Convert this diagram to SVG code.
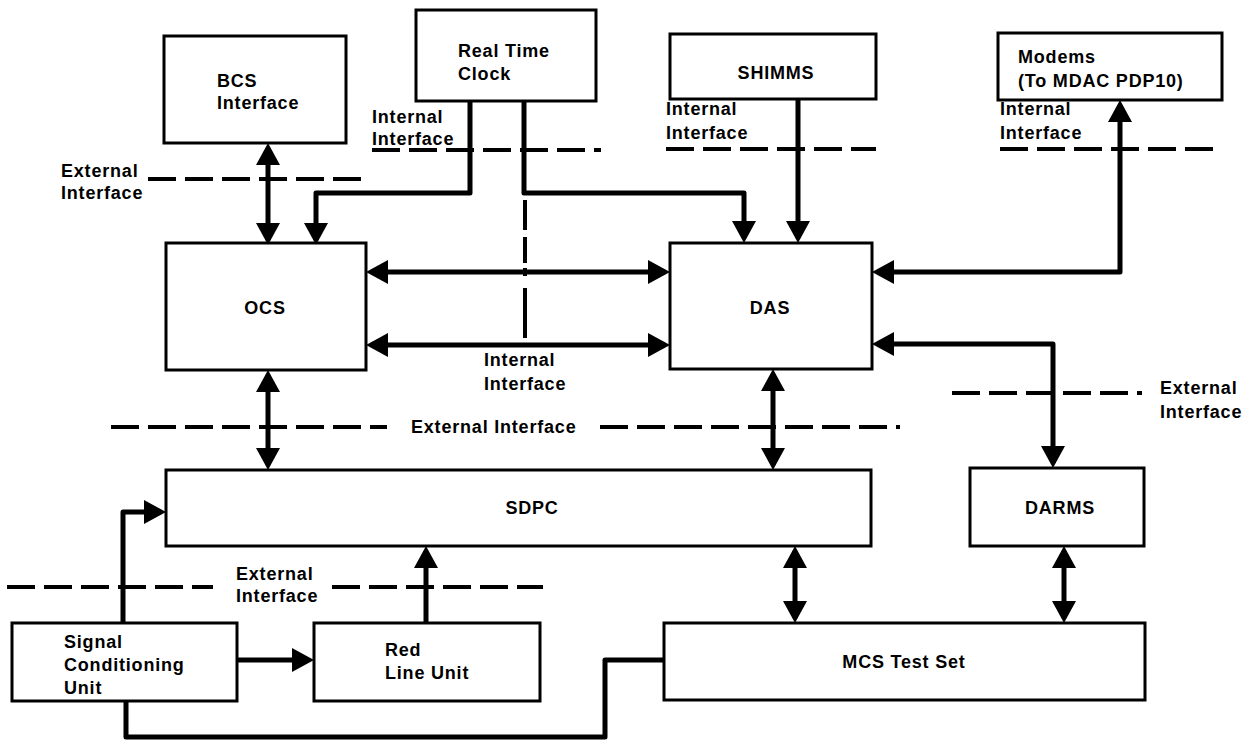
<svg xmlns="http://www.w3.org/2000/svg" width="1248" height="742" viewBox="0 0 1248 742">
<defs>
<style>
.box{fill:#fff;stroke:#000;stroke-width:3}
.t{font-family:"Liberation Sans",Arial,sans-serif;font-size:18px;font-weight:bold;letter-spacing:0.8px;fill:#000}
.c{stroke:#000;stroke-width:5;fill:none;stroke-linejoin:round}
.d{stroke:#000;stroke-width:4;fill:none;stroke-dasharray:28 9}
</style>
<marker id="ah" markerUnits="userSpaceOnUse" markerWidth="24" markerHeight="24" refX="17" refY="12" orient="auto-start-reverse">
<path d="M0,0 L22,12 L0,24 z" fill="#000"/>
</marker>
</defs>
<rect width="1248" height="742" fill="#fff"/>

<g id="interfaces">
<line class="d" x1="372" y1="150" x2="601" y2="150"/>
<line class="d" x1="666" y1="149" x2="876" y2="149"/>
<line class="d" x1="1000" y1="149" x2="1222" y2="149"/>
<line class="d" x1="148" y1="179" x2="364" y2="179"/>
<line class="d" x1="111" y1="427" x2="387" y2="427"/>
<line class="d" x1="600" y1="427" x2="900" y2="427"/>
<line class="d" x1="952" y1="393" x2="1142" y2="393"/>
<line class="d" x1="7" y1="587" x2="213" y2="587"/>
<line class="d" x1="332" y1="587" x2="543" y2="587"/>
<path d="M525,200 V230 M525,237 V263 M525,268 V276 M525,288 V338" stroke="#000" stroke-width="4" fill="none"/>
<text class="t" x="372" y="123">Internal</text>
<text class="t" x="372" y="145">Interface</text>
<text class="t" x="666" y="115">Internal</text>
<text class="t" x="666" y="139">Interface</text>
<text class="t" x="1000" y="115">Internal</text>
<text class="t" x="1000" y="139">Interface</text>
<text class="t" x="61" y="177">External</text>
<text class="t" x="61" y="199">Interface</text>
<text class="t" x="484" y="366">Internal</text>
<text class="t" x="484" y="390">Interface</text>
<text class="t" x="411" y="433">External Interface</text>
<text class="t" x="1160" y="394">External</text>
<text class="t" x="1160" y="418">Interface</text>
<text class="t" x="236" y="580">External</text>
<text class="t" x="236" y="602">Interface</text>
</g>

<g id="connectors">
<line class="c" x1="268" y1="148" x2="268" y2="240" marker-start="url(#ah)" marker-end="url(#ah)"/>
<path class="c" d="M470,101 V193 H316 V240" marker-end="url(#ah)"/>
<path class="c" d="M524,101 V193 H744 V238" marker-end="url(#ah)"/>
<line class="c" x1="798" y1="99" x2="798" y2="238" marker-end="url(#ah)"/>
<line class="c" x1="371" y1="272" x2="665" y2="272" marker-start="url(#ah)" marker-end="url(#ah)"/>
<line class="c" x1="371" y1="345" x2="665" y2="345" marker-start="url(#ah)" marker-end="url(#ah)"/>
<path class="c" d="M877,272 H1120 V105" marker-start="url(#ah)" marker-end="url(#ah)"/>
<path class="c" d="M877,344 H1053 V463" marker-start="url(#ah)" marker-end="url(#ah)"/>
<line class="c" x1="268" y1="375" x2="268" y2="465" marker-start="url(#ah)" marker-end="url(#ah)"/>
<line class="c" x1="773" y1="374" x2="773" y2="465" marker-start="url(#ah)" marker-end="url(#ah)"/>
<path class="c" d="M123,623 V512 H161" marker-end="url(#ah)"/>
<line class="c" x1="426" y1="623" x2="426" y2="551" marker-end="url(#ah)"/>
<line class="c" x1="237" y1="660" x2="309" y2="660" marker-end="url(#ah)"/>
<line class="c" x1="795" y1="551" x2="795" y2="618" marker-start="url(#ah)" marker-end="url(#ah)"/>
<line class="c" x1="1064" y1="551" x2="1064" y2="618" marker-start="url(#ah)" marker-end="url(#ah)"/>
<path class="c" d="M126,701 V737 H605 V660 H664"/>
</g>

<g id="bcs"><rect class="box" x="164" y="36" width="182" height="107"/><text class="t" x="217" y="87">BCS</text><text class="t" x="217" y="109">Interface</text></g>
<g id="rtc"><rect class="box" x="416" y="10" width="180" height="91"/><text class="t" x="458" y="57">Real Time</text><text class="t" x="458" y="80">Clock</text></g>
<g id="shimms"><rect class="box" x="670" y="34" width="206" height="65"/><text class="t" x="776" y="79" text-anchor="middle">SHIMMS</text></g>
<g id="modems"><rect class="box" x="998" y="33" width="224" height="67"/><text class="t" x="1018" y="63">Modems</text><text class="t" x="1018" y="87">(To MDAC PDP10)</text></g>
<g id="ocs"><rect class="box" x="166" y="243" width="200" height="127"/><text class="t" x="265" y="314" text-anchor="middle">OCS</text></g>
<g id="das"><rect class="box" x="670" y="243" width="202" height="126"/><text class="t" x="770" y="314" text-anchor="middle">DAS</text></g>
<g id="sdpc"><rect class="box" x="166" y="470" width="705" height="76"/><text class="t" x="532" y="514" text-anchor="middle">SDPC</text></g>
<g id="darms"><rect class="box" x="970" y="468" width="174" height="78"/><text class="t" x="1060" y="514" text-anchor="middle">DARMS</text></g>
<g id="scu"><rect class="box" x="12" y="623" width="225" height="78"/><text class="t" x="64" y="648">Signal</text><text class="t" x="64" y="671">Conditioning</text><text class="t" x="64" y="694">Unit</text></g>
<g id="rlu"><rect class="box" x="314" y="623" width="226" height="78"/><text class="t" x="385" y="656">Red</text><text class="t" x="385" y="679">Line Unit</text></g>
<g id="mcs"><rect class="box" x="664" y="623" width="481" height="77"/><text class="t" x="904" y="668" text-anchor="middle">MCS Test Set</text></g>
</svg>
